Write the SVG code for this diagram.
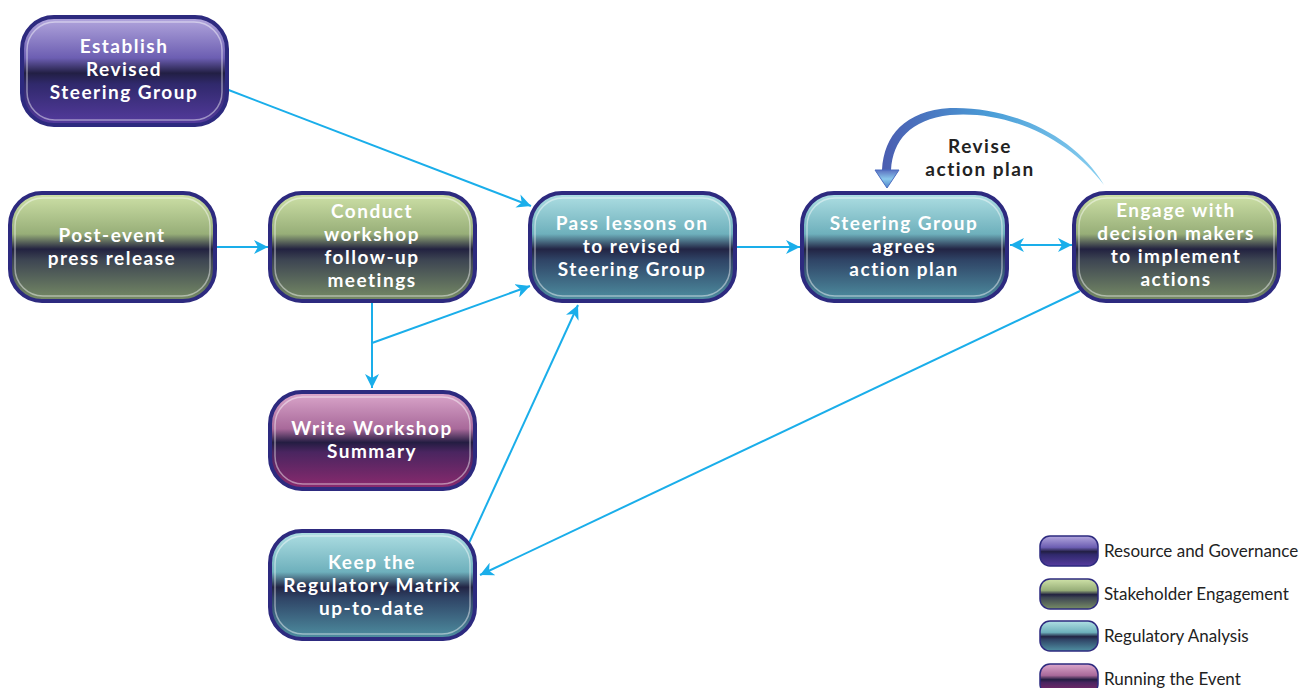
<svg xmlns="http://www.w3.org/2000/svg" width="1312" height="688" viewBox="0 0 1312 688">
<defs>
<linearGradient id="gPurple" x1="0" y1="0" x2="0" y2="1">
<stop offset="0" stop-color="#b4a8de"/><stop offset="0.38" stop-color="#6c5eb2"/><stop offset="0.52" stop-color="#221f44"/><stop offset="0.62" stop-color="#30296c"/><stop offset="1" stop-color="#553b9e"/>
</linearGradient>
<linearGradient id="gGreen" x1="0" y1="0" x2="0" y2="1">
<stop offset="0" stop-color="#cfe2a8"/><stop offset="0.38" stop-color="#97ae78"/><stop offset="0.52" stop-color="#222240"/><stop offset="0.62" stop-color="#3d4552"/><stop offset="1" stop-color="#788d66"/>
</linearGradient>
<linearGradient id="gTeal" x1="0" y1="0" x2="0" y2="1">
<stop offset="0" stop-color="#b0e0e4"/><stop offset="0.38" stop-color="#6eb0bc"/><stop offset="0.52" stop-color="#222444"/><stop offset="0.62" stop-color="#2f4466"/><stop offset="1" stop-color="#4f90a2"/>
</linearGradient>
<linearGradient id="gMagenta" x1="0" y1="0" x2="0" y2="1">
<stop offset="0" stop-color="#dca8cc"/><stop offset="0.38" stop-color="#a8699a"/><stop offset="0.52" stop-color="#241d42"/><stop offset="0.62" stop-color="#4a2560"/><stop offset="1" stop-color="#8c2a6e"/>
</linearGradient>
<linearGradient id="gSwoosh" x1="0" y1="0" x2="1" y2="0">
<stop offset="0" stop-color="#4a5cb0"/><stop offset="0.5" stop-color="#4a9ed8"/><stop offset="1" stop-color="#8ad0f0"/>
</linearGradient>
<linearGradient id="gTri" x1="0" y1="0" x2="0" y2="1">
<stop offset="0" stop-color="#5a70c0"/><stop offset="0.5" stop-color="#8ac8ec"/><stop offset="1" stop-color="#4a80c8"/>
</linearGradient>
<marker id="arr" viewBox="0 0 14 14" refX="14" refY="7" markerWidth="14" markerHeight="14" markerUnits="userSpaceOnUse" orient="auto-start-reverse">
<path d="M0,0 L14,7 L0,14 L4,7 Z" fill="#1aaeea"/>
</marker>
<style>
.box{stroke:#2d2a7f;stroke-width:4}
.hl{fill:none;stroke:#ffffff;stroke-opacity:0.45;stroke-width:1.5}
.t{font-family:Lato,"Open Sans",sans-serif;font-weight:bold;font-size:19px;letter-spacing:1.5px;fill:#ffffff;text-anchor:middle}
.lbl{font-family:Lato,"Open Sans",sans-serif;font-weight:bold;font-size:19px;letter-spacing:1.5px;fill:#222222;text-anchor:middle}
.leg{stroke:#2d2a7f;stroke-width:1.5}
.lt{font-family:Lato,"Open Sans",sans-serif;font-size:17px;fill:#222222}
.c{fill:none;stroke:#1aaeea;stroke-width:2}
</style>
</defs>
<rect width="1312" height="688" fill="#ffffff"/>

<g id="connectors">
<line class="c" x1="226" y1="89" x2="531" y2="206" marker-end="url(#arr)"/>
<line class="c" x1="216" y1="247" x2="268" y2="247" marker-end="url(#arr)"/>
<line class="c" x1="372" y1="302" x2="372" y2="388" marker-end="url(#arr)"/>
<line class="c" x1="372" y1="343" x2="530" y2="286" marker-end="url(#arr)"/>
<line class="c" x1="469" y1="543" x2="578" y2="305" marker-end="url(#arr)"/>
<line class="c" x1="736" y1="247" x2="800" y2="247" stroke-width="3" marker-end="url(#arr)"/>
<line class="c" x1="1010" y1="245" x2="1072" y2="245" marker-start="url(#arr)" marker-end="url(#arr)"/>
<line class="c" x1="1080" y1="291" x2="480" y2="575" marker-end="url(#arr)"/>
<g id="revise-loop">
<path d="M1104,185 C1075,135 1010,106 950,108 C905,111 884,135 882,170 L891,170 C893,140 910,120 950,115 C1010,110 1070,140 1104,185 Z" fill="url(#gSwoosh)"/>
<path d="M875,170 L899,170 L887,188 Z" fill="url(#gTri)" stroke="#4a6cc0" stroke-width="1"/>
<text class="lbl"><tspan x="980" y="153">Revise</tspan><tspan x="980" y="176">action plan</tspan></text>
</g>
</g>

<g id="n-establish">
<rect class="box" x="22" y="17" width="205" height="108" rx="32" fill="url(#gPurple)"/>
<rect class="hl" x="27" y="22" width="195" height="98" rx="28"/>
<text class="t"><tspan x="124" y="53">Establish</tspan><tspan x="124" y="76">Revised</tspan><tspan x="124" y="99">Steering Group</tspan></text>
</g>

<g id="n-postevent">
<rect class="box" x="10" y="193" width="205" height="108" rx="32" fill="url(#gGreen)"/>
<rect class="hl" x="15" y="198" width="195" height="98" rx="28"/>
<text class="t"><tspan x="112" y="242">Post-event</tspan><tspan x="112" y="265">press release</tspan></text>
</g>

<g id="n-conduct">
<rect class="box" x="270" y="193" width="205" height="108" rx="32" fill="url(#gGreen)"/>
<rect class="hl" x="275" y="198" width="195" height="98" rx="28"/>
<text class="t"><tspan x="372" y="218">Conduct</tspan><tspan x="372" y="241">workshop</tspan><tspan x="372" y="264">follow-up</tspan><tspan x="372" y="287">meetings</tspan></text>
</g>

<g id="n-pass">
<rect class="box" x="530" y="193" width="205" height="108" rx="32" fill="url(#gTeal)"/>
<rect class="hl" x="535" y="198" width="195" height="98" rx="28"/>
<text class="t"><tspan x="632" y="230">Pass lessons on</tspan><tspan x="632" y="253">to revised</tspan><tspan x="632" y="276">Steering Group</tspan></text>
</g>

<g id="n-agrees">
<rect class="box" x="802" y="193" width="205" height="108" rx="32" fill="url(#gTeal)"/>
<rect class="hl" x="807" y="198" width="195" height="98" rx="28"/>
<text class="t"><tspan x="904" y="230">Steering Group</tspan><tspan x="904" y="253">agrees</tspan><tspan x="904" y="276">action plan</tspan></text>
</g>

<g id="n-engage">
<rect class="box" x="1074" y="193" width="205" height="108" rx="32" fill="url(#gGreen)"/>
<rect class="hl" x="1079" y="198" width="195" height="98" rx="28"/>
<text class="t"><tspan x="1176" y="217">Engage with</tspan><tspan x="1176" y="240">decision makers</tspan><tspan x="1176" y="263">to implement</tspan><tspan x="1176" y="286">actions</tspan></text>
</g>

<g id="n-write">
<rect class="box" x="270" y="392" width="205" height="97" rx="32" fill="url(#gMagenta)"/>
<rect class="hl" x="275" y="397" width="195" height="87" rx="28"/>
<text class="t"><tspan x="372" y="435">Write Workshop</tspan><tspan x="372" y="458">Summary</tspan></text>
</g>

<g id="n-keep">
<rect class="box" x="270" y="531" width="205" height="108" rx="32" fill="url(#gTeal)"/>
<rect class="hl" x="275" y="536" width="195" height="98" rx="28"/>
<text class="t"><tspan x="372" y="569">Keep the</tspan><tspan x="372" y="592">Regulatory Matrix</tspan><tspan x="372" y="615">up-to-date</tspan></text>
</g>

<g id="legend">
<rect class="leg" x="1040" y="536" width="58" height="30" rx="10" fill="url(#gPurple)"/>
<text class="lt" x="1104" y="557">Resource and Governance</text>
<rect class="leg" x="1040" y="579" width="58" height="30" rx="10" fill="url(#gGreen)"/>
<text class="lt" x="1104" y="600">Stakeholder Engagement</text>
<rect class="leg" x="1040" y="621" width="58" height="30" rx="10" fill="url(#gTeal)"/>
<text class="lt" x="1104" y="642">Regulatory Analysis</text>
<rect class="leg" x="1040" y="664" width="58" height="30" rx="10" fill="url(#gMagenta)"/>
<text class="lt" x="1104" y="685">Running the Event</text>
</g>
</svg>
